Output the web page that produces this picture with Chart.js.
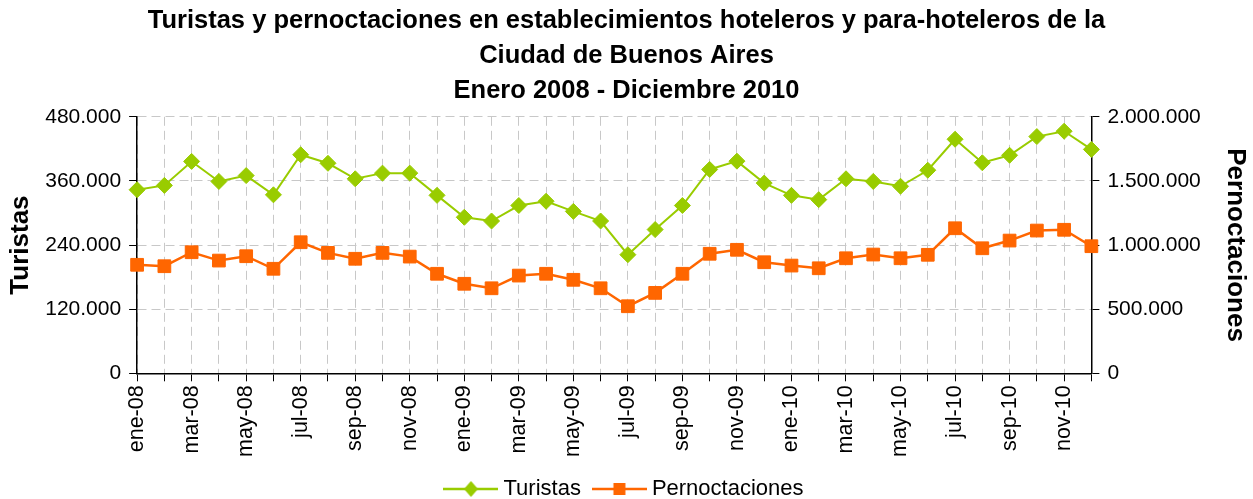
<!DOCTYPE html>
<html>
<head>
<meta charset="utf-8">
<script src="https://cdn.jsdelivr.net/npm/chart.js@4/dist/chart.umd.min.js"></script>
<style>
  html, body { margin: 0; padding: 0; background: #fff; }
  #wrap { width: 1253px; height: 499px; }
</style>
</head>
<body>
<div id="wrap"><canvas id="chart"></canvas></div>
<script>
const months = ['ene', 'feb', 'mar', 'abr', 'may', 'jun', 'jul', 'ago', 'sep', 'oct', 'nov', 'dic'];
const years = ['08', '09', '10'];
const categories = [];
years.forEach(y => months.forEach(m => categories.push(m + '-' + y)));

const turistas = [
  343500, 351600, 396500, 359000, 370000, 334000, 409000, 393000, 364000, 374600, 374600, 333000,
  292000, 285000, 314000, 322000, 303000, 285000, 222000, 269000, 314000, 381500, 397000, 356000,
  333000, 325000, 364000, 359000, 350000, 380000, 438000, 394000, 408000, 443000, 453000, 419000
];
const pernoctaciones = [
  846000, 835000, 944000, 879000, 913000, 815000, 1022000, 939000, 893000, 939000, 910000, 776000,
  698000, 663000, 762000, 776000, 729000, 663000, 523000, 627000, 776000, 932000, 963000, 866000,
  840000, 819000, 897000, 926000, 897000, 924000, 1131000, 975000, 1035000, 1113000, 1119000, 991000
];

const GREEN = '#99cc00';
const ORANGE = '#ff6600';
const FONT = "'Liberation Sans', Arial, Helvetica, sans-serif";

function formatNumber(v) {
  return String(v).replace(/\B(?=(\d{3})+(?!\d))/g, '.');
}

// legend swatch: line with the marker in the middle
function legendSwatch(color, style) {
  const c = document.createElement('canvas');
  c.width = 55;
  c.height = 20;
  const g = c.getContext('2d');
  g.strokeStyle = color;
  g.fillStyle = color;
  g.lineWidth = 2.5;
  g.beginPath();
  g.moveTo(0, 10);
  g.lineTo(55, 10);
  g.stroke();
  g.beginPath();
  if (style === 'diamond') {
    g.moveTo(27.5, 2); g.lineTo(34.5, 10); g.lineTo(27.5, 18); g.lineTo(20.5, 10);
  } else {
    g.rect(21.5, 4, 12, 12);
  }
  g.closePath();
  g.fill();
  return c;
}

const swatches = [legendSwatch(GREEN, 'diamond'), legendSwatch(ORANGE, 'rect')];

new Chart(document.getElementById('chart'), {
  type: 'line',
  data: {
    labels: categories,
    datasets: [
      {
        label: 'Turistas',
        data: turistas,
        yAxisID: 'y',
        borderColor: GREEN,
        backgroundColor: GREEN,
        borderWidth: 2,
        pointStyle: 'rectRot',
        pointRadius: 8,
        pointBorderWidth: 1,
        tension: 0,
        clip: false
      },
      {
        label: 'Pernoctaciones',
        data: pernoctaciones,
        yAxisID: 'y1',
        borderColor: ORANGE,
        backgroundColor: ORANGE,
        borderWidth: 2.5,
        pointStyle: 'rect',
        pointRadius: 9,
        pointBorderWidth: 1,
        tension: 0,
        clip: false
      }
    ]
  },
  options: {
    responsive: true,
    maintainAspectRatio: false,
    animation: false,
    layout: { padding: { left: 0, right: 0, top: 0, bottom: -11 } },
    plugins: {
      title: {
        display: true,
        text: [
          'Turistas y pernoctaciones en establecimientos hoteleros y para-hoteleros de la',
          'Ciudad de Buenos Aires',
          'Enero 2008 - Diciembre 2010'
        ],
        color: '#000',
        font: { family: FONT, size: 25.5, weight: 'bold', lineHeight: 1.37 },
        padding: { top: 4, bottom: 8 }
      },
      legend: {
        display: true,
        position: 'bottom',
        labels: {
          color: '#000',
          font: { family: FONT, size: 22 },
          usePointStyle: true,
          pointStyleWidth: 43,
          padding: 17,
          generateLabels: chart => chart.data.datasets.map((ds, i) => ({
            text: ds.label,
            pointStyle: swatches[i],
            fillStyle: ds.borderColor,
            strokeStyle: ds.borderColor,
            lineWidth: 0,
            hidden: false,
            datasetIndex: i,
            fontColor: '#000'
          }))
        }
      },
      tooltip: { enabled: false }
    },
    scales: {
      x: {
        type: 'category',
        offset: false,
        grid: {
          color: '#c8c8c8',
          lineWidth: 1,
          drawTicks: true,
          tickLength: 8,
          tickColor: '#000',
          tickWidth: 1
        },
        border: { display: true, color: '#000', width: 1.5, dash: [9, 5] },
        ticks: {
          autoSkip: false,
          maxRotation: 90,
          minRotation: 90,
          padding: 4,
          color: '#000',
          font: { family: FONT, size: 21.5 },
          callback: function(value, index) {
            return index % 2 === 0 ? categories[index] : '';
          }
        }
      },
      y: {
        position: 'left',
        min: 0,
        max: 480000,
        grid: {
          color: '#c8c8c8',
          lineWidth: 1,
          tickLength: 8,
          tickColor: '#000',
          tickWidth: 1
        },
        border: { display: true, color: '#000', width: 1.5, dash: [9, 5] },
        ticks: {
          stepSize: 120000,
          padding: 8,
          color: '#000',
          font: { family: FONT, size: 21 },
          callback: v => formatNumber(v)
        },
        title: {
          display: true,
          text: 'Turistas',
          color: '#000',
          font: { family: FONT, size: 26, weight: 'bold', lineHeight: 1.2 },
          padding: { top: 5, bottom: 1 }
        }
      },
      y1: {
        position: 'right',
        min: 0,
        max: 2000000,
        grid: {
          drawOnChartArea: false,
          tickLength: 8,
          tickColor: '#000',
          tickWidth: 1
        },
        border: { display: true, color: '#000', width: 1.5 },
        ticks: {
          stepSize: 500000,
          padding: 8,
          color: '#000',
          font: { family: FONT, size: 21 },
          callback: v => formatNumber(v)
        },
        title: {
          display: true,
          text: 'Pernoctaciones',
          color: '#000',
          font: { family: FONT, size: 26, weight: 'bold', lineHeight: 1.2 },
          padding: { top: 2, bottom: 11 }
        }
      }
    }
  }
});
</script>
</body>
</html>
